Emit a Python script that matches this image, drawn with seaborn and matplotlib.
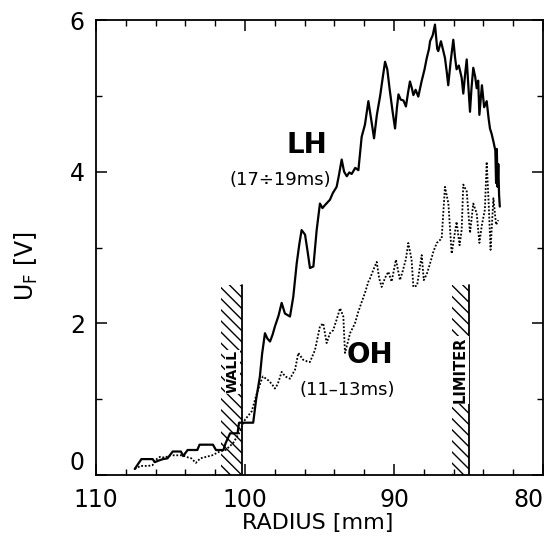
import numpy as np
import pandas as pd
import matplotlib
matplotlib.use('Agg')
import matplotlib.pyplot as plt
import seaborn as sns
from matplotlib.patches import Rectangle
from matplotlib.ticker import MultipleLocator

# ---- data ----
lh_radius = [107.4, 106.95, 106.5, 106.2, 106.05, 105.8, 105.5, 105.2, 104.85, 104.3,
             104.15, 103.85, 103.2, 103.05, 102.15, 101.95, 101.45, 101.3, 101.0, 100.5,
             100.4, 99.45, 99.25, 99.0, 98.85, 98.66, 98.5, 98.32, 98.15, 97.99,
             97.75, 97.54, 97.32, 96.98, 96.76, 96.53, 96.35, 96.2, 95.97, 95.8,
             95.64, 95.41, 95.19, 94.97, 94.8, 94.63, 94.3, 94.1, 93.85, 93.7,
             93.51, 93.35, 93.17, 93.0, 92.84, 92.6, 92.39, 92.17, 91.95, 91.72,
             91.5, 91.34, 91.15, 90.93, 90.75, 90.6, 90.45, 90.3, 90.1, 89.93,
             89.8, 89.7, 89.55, 89.37, 89.2, 89.05, 88.93, 88.8, 88.7, 88.55,
             88.37, 88.15, 87.95, 87.8, 87.65, 87.58, 87.4, 87.25, 87.1, 87.03,
             86.85, 86.7, 86.58, 86.45, 86.36, 86.2, 86.02, 85.9, 85.8, 85.65,
             85.46, 85.35, 85.22, 85.12, 85.0, 84.9, 84.8, 84.68, 84.55, 84.45,
             84.35, 84.27, 84.1, 83.95, 83.78, 83.65, 83.56, 83.45, 83.33, 83.2,
             83.15, 83.1, 83.05, 83.0, 82.95, 82.9]
lh_uf = [0.08, 0.21, 0.21, 0.21, 0.17, 0.19, 0.21, 0.22, 0.31, 0.31,
         0.25, 0.33, 0.33, 0.40, 0.40, 0.33, 0.33, 0.42, 0.55, 0.55,
         0.69, 0.69, 1.00, 1.30, 1.60, 1.87, 1.80, 1.76, 1.85, 1.96,
         2.10, 2.27, 2.13, 2.09, 2.35, 2.79, 3.05, 3.23, 3.17, 2.95,
         2.73, 2.75, 3.23, 3.58, 3.52, 3.56, 3.63, 3.72, 3.80, 3.95,
         4.16, 4.00, 3.94, 3.99, 3.97, 4.05, 4.02, 4.46, 4.62, 4.93,
         4.65, 4.44, 4.75, 5.00, 5.25, 5.45, 5.35, 5.10, 4.80, 4.57,
         4.85, 5.02, 4.95, 4.94, 4.86, 5.05, 5.19, 5.10, 5.01, 5.08,
         4.99, 5.19, 5.35, 5.50, 5.62, 5.72, 5.80, 5.94, 5.62, 5.59,
         5.72, 5.60, 5.50, 5.30, 5.14, 5.45, 5.74, 5.50, 5.35, 5.40,
         5.24, 5.03, 5.30, 5.48, 5.10, 4.79, 5.10, 5.37, 5.25, 5.10,
         5.20, 4.75, 5.14, 4.85, 4.93, 4.70, 4.57, 4.50, 4.40, 4.28,
         3.85, 4.30, 3.80, 4.10, 3.70, 3.54]

oh_radius = [107.4, 107.0, 106.5, 106.2, 106.0, 105.7, 105.4, 105.0, 104.6, 104.2,
             103.8, 103.6, 103.3, 103.0, 102.6, 102.2, 101.7, 101.3, 100.8, 100.4,
             100.0, 99.55, 99.2, 98.9, 98.8, 98.44, 98.2, 97.99, 97.8, 97.54,
             97.3, 96.98, 96.64, 96.42, 96.1, 95.85, 95.64, 95.3, 94.97, 94.75,
             94.52, 94.3, 94.08, 93.85, 93.62, 93.4, 93.29, 93.1, 92.95, 92.62,
             92.4, 92.17, 91.95, 91.72, 91.61, 91.4, 91.16, 91.0, 90.83, 90.6,
             90.38, 90.16, 89.87, 89.6, 89.4, 89.2, 89.04, 88.82, 88.7, 88.45,
             88.14, 88.0, 87.8, 87.58, 87.35, 87.13, 86.8, 86.58, 86.35, 86.13,
             85.95, 85.8, 85.6, 85.46, 85.35, 85.12, 84.9, 84.68, 84.45, 84.27,
             84.1, 83.9, 83.78, 83.65, 83.52, 83.33, 83.15, 83.0]
oh_uf = [0.08, 0.12, 0.12, 0.13, 0.20, 0.24, 0.23, 0.26, 0.26, 0.26,
         0.23, 0.22, 0.16, 0.22, 0.24, 0.26, 0.31, 0.33, 0.42, 0.55,
         0.73, 0.84, 1.08, 1.25, 1.30, 1.25, 1.20, 1.14, 1.20, 1.36,
         1.30, 1.27, 1.39, 1.61, 1.52, 1.50, 1.49, 1.65, 1.96, 2.00,
         1.74, 1.87, 1.91, 2.05, 2.20, 2.09, 1.61, 1.75, 1.87, 2.00,
         2.15, 2.28, 2.40, 2.55, 2.59, 2.70, 2.81, 2.60, 2.48, 2.60,
         2.68, 2.55, 2.84, 2.57, 2.70, 2.85, 3.06, 2.84, 2.48, 2.50,
         2.90, 2.57, 2.65, 2.79, 2.95, 3.06, 3.12, 3.80, 3.58, 2.92,
         3.15, 3.34, 3.03, 3.23, 3.83, 3.74, 3.19, 3.58, 3.45, 3.06,
         3.30, 3.50, 4.13, 3.60, 2.97, 3.65, 3.30, 3.36]

x_ticks = [110, 100, 90, 80]
y_ticks = [0, 2, 4, 6]
wall_span = (100.2, 101.6)
limiter_span = (85.0, 86.1)
hatch_top = 2.5

lh_df = pd.DataFrame({'radius': lh_radius, 'uf': lh_uf})
oh_df = pd.DataFrame({'radius': oh_radius, 'uf': oh_uf})

sns.set_style('ticks')
plt.rcParams['font.family'] = ['DejaVu Sans']
plt.rcParams['hatch.linewidth'] = 1.0
plt.rcParams['hatch.color'] = 'black'
for k in ('text.color', 'axes.labelcolor', 'xtick.color', 'ytick.color'):
    plt.rcParams[k] = 'black'

fig = plt.figure(figsize=(5.51, 5.44), dpi=100)
ax = fig.add_axes([0.1742, 0.1268, 0.8113, 0.8364])

# hatched wall / limiter regions
for (x0, x1) in (wall_span, limiter_span):
    ax.add_patch(Rectangle((x0, 0), x1 - x0, hatch_top, fill=False,
                           hatch='\\' * 3, linewidth=0, edgecolor='black', zorder=1))
    ax.plot([x0, x0], [0, hatch_top], color='black', lw=1.3, zorder=2)

sns.lineplot(data=lh_df, x='radius', y='uf', ax=ax, color='black', lw=1.6,
             estimator=None, sort=False, zorder=4)
sns.lineplot(data=oh_df, x='radius', y='uf', ax=ax, color='black', lw=1.3,
             linestyle=(0, (1, 1)), estimator=None, sort=False, zorder=3)

ax.set_xlim(110, 80)
ax.set_ylim(0, 6)
ax.set_xticks(x_ticks)
ax.set_yticks(y_ticks)
ax.xaxis.set_minor_locator(MultipleLocator(2))
ax.yaxis.set_minor_locator(MultipleLocator(1))
ax.tick_params(which='both', direction='in', top=True, right=True)
ax.tick_params(which='major', length=8, width=1.1, labelsize=17)
ax.tick_params(axis='x', which='major', pad=9)
ax.tick_params(axis='y', which='major', pad=8)
ax.tick_params(which='minor', length=4, width=1.0)
for s in ax.spines.values():
    s.set_color('black')
    s.set_linewidth(1.3)

# edge tick labels nudged inside, as in the reference
ax.xaxis.get_major_ticks()[-1].label1.set_horizontalalignment('right')
ax.yaxis.get_major_ticks()[0].label1.set_verticalalignment('bottom')

ax.set_xlabel('RADIUS [mm]', fontsize=16)
ax.xaxis.set_label_coords(0.495, -0.083)
ax.set_ylabel('U$_\\mathregular{F}$ [V]', fontsize=17)
ax.yaxis.set_label_coords(-0.125, 0.46)

# annotations
ax.text(95.84, 4.35, 'LH', fontsize=20, fontweight='bold', ha='center', va='center')
ax.text(97.65, 3.89, '(17÷19ms)', fontsize=13, ha='center', va='center')
ax.text(91.6, 1.58, 'OH', fontsize=20, fontweight='bold', ha='center', va='center')
ax.text(93.15, 1.12, '(11–13ms)', fontsize=13, ha='center', va='center')
ax.text(100.85, 1.36, 'WALL', fontsize=10, fontweight='bold', rotation=90,
        ha='center', va='center', zorder=5,
        bbox=dict(facecolor='white', edgecolor='none', pad=0.5))
ax.text(85.55, 1.39, 'LIMITER', fontsize=10.5, fontweight='bold', rotation=90,
        ha='center', va='center', zorder=5,
        bbox=dict(facecolor='white', edgecolor='none', pad=0.5))

fig.savefig('out.png', dpi=100, facecolor='white')
